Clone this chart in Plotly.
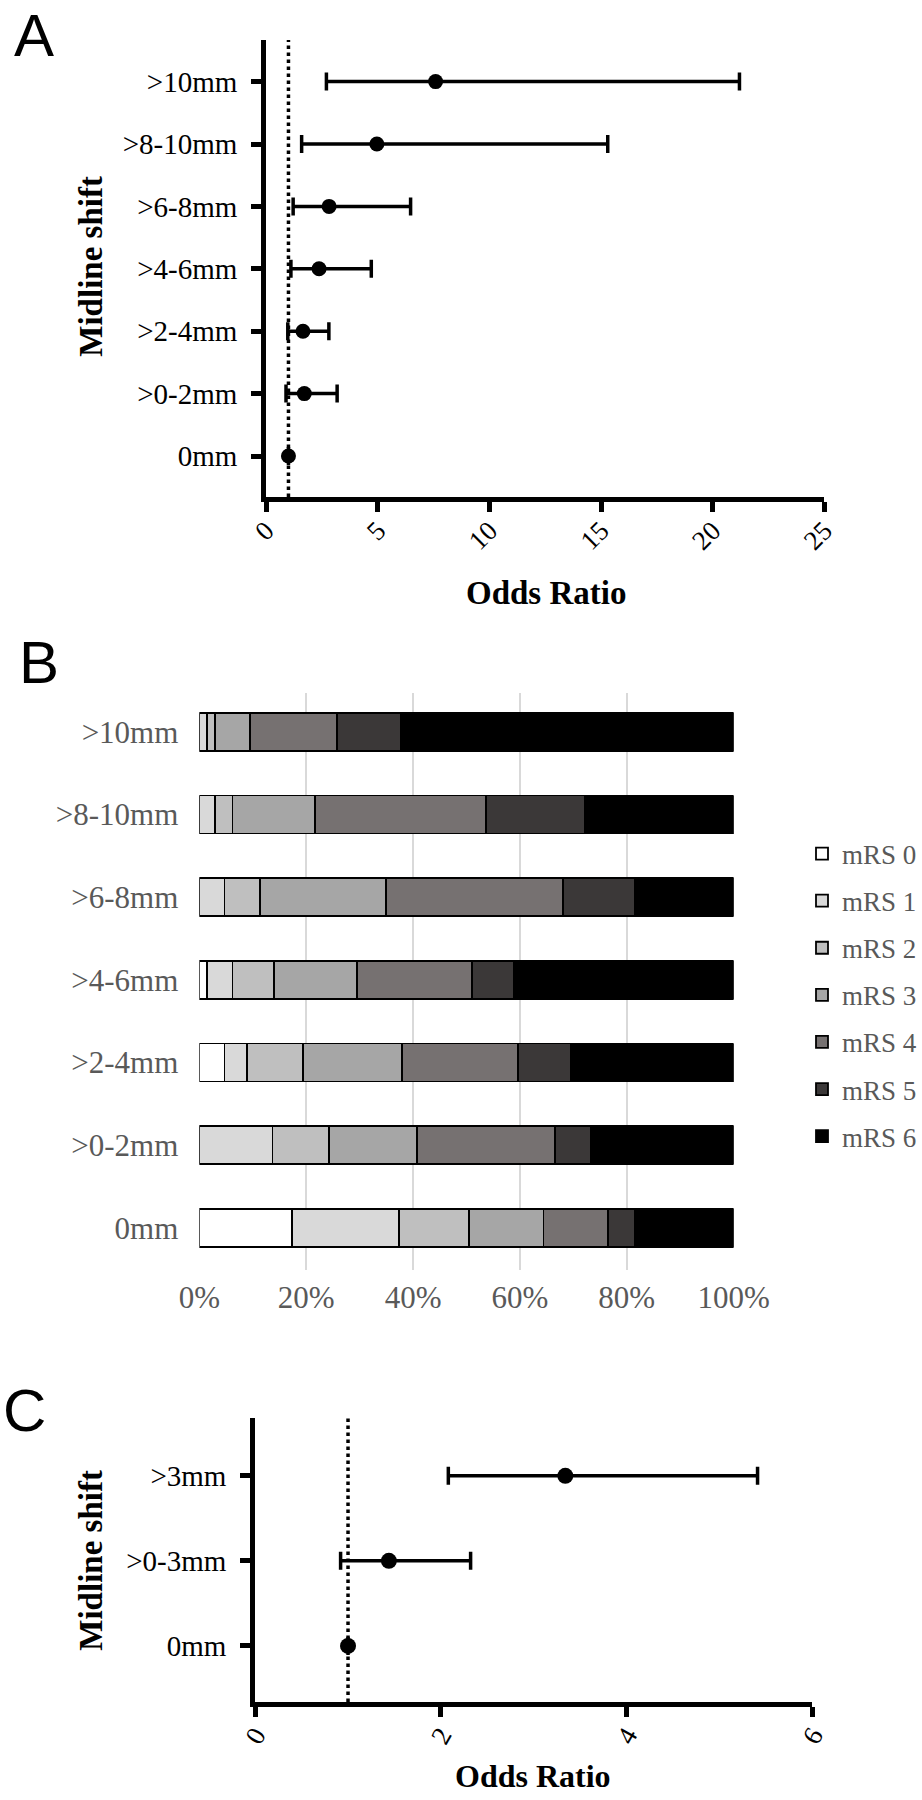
import plotly.graph_objects as go

# ---------------- Panel A data ----------------
cats_a = ["0mm", ">0-2mm", ">2-4mm", ">4-6mm", ">6-8mm", ">8-10mm", ">10mm"]
or_a = [1.0, 1.71, 1.65, 2.37, 2.82, 4.96, 7.59]
lo_a = [1.0, 0.89, 0.97, 1.11, 1.21, 1.59, 2.70]
hi_a = [1.0, 3.18, 2.81, 4.71, 6.47, 15.3, 21.2]
ticks_a = [0, 5, 10, 15, 20, 25]

# ---------------- Panel B data ----------------
cats_b = ["0mm", ">0-2mm", ">2-4mm", ">4-6mm", ">6-8mm", ">8-10mm", ">10mm"]
mrs_names = ["mRS 0", "mRS 1", "mRS 2", "mRS 3", "mRS 4", "mRS 5", "mRS 6"]
mrs0 = [17.3, 0.0, 4.7, 1.4, 0.0, 0.0, 0.0]
mrs1 = [20.1, 13.7, 4.2, 4.8, 4.7, 3.0, 1.5]
mrs2 = [13.1, 10.5, 10.5, 7.8, 6.7, 3.2, 1.5]
mrs3 = [13.9, 16.5, 18.6, 15.5, 23.5, 15.5, 6.5]
mrs4 = [12.1, 25.8, 21.6, 21.6, 33.1, 32.0, 16.2]
mrs5 = [5.1, 6.7, 9.9, 7.8, 13.6, 18.4, 12.1]
mrs6 = [18.4, 26.8, 30.5, 41.1, 18.4, 27.9, 62.2]
ticks_b = [0, 20, 40, 60, 80, 100]
ticklabels_b = ["0%", "20%", "40%", "60%", "80%", "100%"]

# ---------------- Panel C data ----------------
cats_c = ["0mm", ">0-3mm", ">3mm"]
or_c = [1.0, 1.44, 3.34]
lo_c = [1.0, 0.92, 2.08]
hi_c = [1.0, 2.32, 5.41]
ticks_c = [0, 2, 4, 6]

REF_OR = 1.0

# ---------------- styles ----------------
W, H = 922, 1800
SERIF = "Liberation Serif, Times New Roman, serif"
SANS = "Liberation Sans, Arial, sans-serif"
GRAY = "#595959"
mrs_colors = ["#ffffff", "#d9d9d9", "#bfbfbf", "#a6a6a6", "#767171", "#3b3838", "#000000"]


def px_x(p):
    """screen x pixel -> paper fraction"""
    return p / W


def px_y(p):
    """screen y pixel (from top) -> paper fraction"""
    return 1 - p / H


fig = go.Figure()

# Panel A forest plot
fig.add_trace(go.Scatter(
    x=or_a, y=cats_a, mode="markers", xaxis="x", yaxis="y", showlegend=False,
    marker=dict(color="black", size=15),
    error_x=dict(type="data", symmetric=False,
                 array=[h - o for h, o in zip(hi_a, or_a)],
                 arrayminus=[o - l for o, l in zip(or_a, lo_a)],
                 color="black", thickness=3.5, width=9),
))

# Panel B stacked bars
mrs_series = [mrs0, mrs1, mrs2, mrs3, mrs4, mrs5, mrs6]
for name, vals, col in zip(mrs_names, mrs_series, mrs_colors):
    fig.add_trace(go.Bar(
        x=vals, y=cats_b, orientation="h", name=name, legendgroup=name,
        xaxis="x2", yaxis="y2", width=0.46,
        marker=dict(color=col, line=dict(color="black", width=1.8)),
    ))

# Panel C forest plot
fig.add_trace(go.Scatter(
    x=or_c, y=cats_c, mode="markers", xaxis="x3", yaxis="y3", showlegend=False,
    marker=dict(color="black", size=16),
    error_x=dict(type="data", symmetric=False,
                 array=[h - o for h, o in zip(hi_c, or_c)],
                 arrayminus=[o - l for o, l in zip(or_c, lo_c)],
                 color="black", thickness=3.5, width=9),
))

# reference lines at OR = 1
for xr, yr in (("x", "y domain"), ("x3", "y3 domain")):
    fig.add_shape(type="line", xref=xr, yref=yr, x0=REF_OR, x1=REF_OR, y0=0, y1=1,
                  line=dict(color="black", width=3.5, dash="dot"), layer="below")

forest_x = dict(showline=True, linewidth=5, linecolor="black", ticks="outside",
                ticklen=10, tickwidth=5, tickcolor="black", showgrid=False,
                zeroline=False, automargin=False,
                tickfont=dict(family=SERIF, size=27, color="black"))
forest_y = dict(type="category", showline=True, linewidth=5, linecolor="black",
                ticks="outside", ticklen=10, tickwidth=5, tickcolor="black",
                showgrid=False, zeroline=False, automargin=False,
                tickfont=dict(family=SERIF, size=29, color="black"),
                ticklabelstandoff=8)

fig.update_layout(
    width=W, height=H, autosize=False, margin=dict(l=0, r=0, t=0, b=0),
    paper_bgcolor="white", plot_bgcolor="white", barmode="stack",
    xaxis=dict(domain=[px_x(267), px_x(827)], anchor="y", range=[0, 25],
               tickvals=ticks_a, tickangle=-45, ticklabelstandoff=-8, **forest_x),
    yaxis=dict(domain=[px_y(497), px_y(40)], anchor="x", categoryarray=cats_a,
               range=[-0.657, 6.667], **forest_y),
    xaxis2=dict(domain=[px_x(200), px_x(736)], anchor="y2", range=[0, 100],
                tickvals=ticks_b, ticktext=ticklabels_b, showgrid=True,
                gridcolor="#d9d9d9", gridwidth=1.5, showline=False, zeroline=False,
                ticks="", automargin=False, ticklabelstandoff=6,
                tickfont=dict(family=SERIF, size=31, color=GRAY)),
    yaxis2=dict(domain=[px_y(1270), px_y(693)], anchor="x2", type="category",
                categoryarray=cats_b, range=[-0.51, 6.47], showline=False,
                showgrid=False, zeroline=False, ticks="", automargin=False,
                ticklabelstandoff=20, tickfont=dict(family=SERIF, size=31, color=GRAY)),
    xaxis3=dict(domain=[px_x(256), px_x(815)], anchor="y3", range=[0, 6],
                tickvals=ticks_c, tickangle=-60, ticklabelstandoff=-8, **forest_x),
    yaxis3=dict(domain=[px_y(1702), px_y(1418)], anchor="x3", categoryarray=cats_c,
                range=[-0.66, 2.68], **forest_y),
    legend=dict(x=px_x(805), y=px_y(995), xanchor="left", yanchor="middle",
                traceorder="grouped", tracegroupgap=9, bgcolor="rgba(0,0,0,0)",
                font=dict(family=SERIF, size=27, color=GRAY)),
    showlegend=True,
)

annos = [
    dict(text="A", x=px_x(12), y=px_y(0), xanchor="left", yanchor="top",
         font=dict(family=SANS, size=60, color="black")),
    dict(text="B", x=px_x(17), y=px_y(662), xanchor="left", yanchor="middle",
         font=dict(family=SANS, size=60, color="black")),
    dict(text="C", x=px_x(1), y=px_y(1410), xanchor="left", yanchor="middle",
         font=dict(family=SANS, size=60, color="black")),
    dict(text="<b>Midline shift</b>", x=px_x(91), y=px_y(266), textangle=-90,
         xanchor="center", yanchor="middle", font=dict(family=SERIF, size=33, color="black")),
    dict(text="<b>Odds Ratio</b>", x=px_x(548), y=px_y(593),
         xanchor="center", yanchor="middle", font=dict(family=SERIF, size=33, color="black")),
    dict(text="<b>Midline shift</b>", x=px_x(91), y=px_y(1560), textangle=-90,
         xanchor="center", yanchor="middle", font=dict(family=SERIF, size=33, color="black")),
    dict(text="<b>Odds Ratio</b>", x=px_x(535), y=px_y(1776),
         xanchor="center", yanchor="middle", font=dict(family=SERIF, size=32, color="black")),
]
for a in annos:
    fig.add_annotation(xref="paper", yref="paper", showarrow=False, **a)

# remove the browser's default 8px page margin so the figure fills the window exactly
fig.write_html("out.html", config={"displayModeBar": False},
               post_script="document.body.style.margin = '0';")
